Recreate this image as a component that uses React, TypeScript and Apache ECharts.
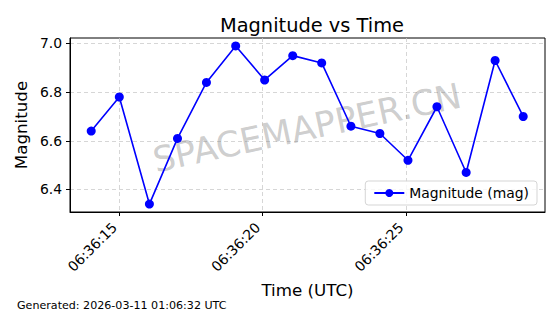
import React, { useEffect, useRef } from "react";
import * as echarts from "echarts";

const times = [
  "06:36:14.02", "06:36:15.00", "06:36:16.05", "06:36:17.03",
  "06:36:18.04", "06:36:19.06", "06:36:20.07", "06:36:21.05",
  "06:36:22.06", "06:36:23.08", "06:36:24.09", "06:36:25.07",
  "06:36:26.08", "06:36:27.10", "06:36:28.11", "06:36:29.09",
];
const magnitudes = [
  6.64, 6.78, 6.34, 6.61, 6.84, 6.99, 6.85, 6.95,
  6.92, 6.66, 6.63, 6.52, 6.74, 6.47, 6.93, 6.70,
];
const xTicks = ["06:36:15", "06:36:20", "06:36:25"];
const yTicks = [6.4, 6.6, 6.8, 7.0];

const toSec = (s: string) => {
  const [h, m, sec] = s.split(":");
  return Number(h) * 3600 + Number(m) * 60 + Number(sec);
};
const fmt = (v: number) => {
  const t = Math.round(v);
  const h = Math.floor(t / 3600);
  const m = Math.floor((t % 3600) / 60);
  const s = t % 60;
  const p = (n: number) => String(n).padStart(2, "0");
  return `${p(h)}:${p(m)}:${p(s)}`;
};

const FONT = "DejaVu Sans";

export default function App() {
  const ref = useRef<HTMLDivElement>(null);
  useEffect(() => {
    if (!ref.current) return;
    const chart = echarts.init(ref.current, undefined, { renderer: "svg" });
    const data = times.map((t, i) => [toSec(t), magnitudes[i]]);
    const xMin = toSec("06:36:13.28");
    const xMax = toSec("06:36:29.85");
    const grid = { color: "#cccccc", type: [4, 3] as any, width: 0.8 };
    chart.setOption({
      animation: false,
      backgroundColor: "#ffffff",
      textStyle: { fontFamily: FONT },
      title: {
        text: "Magnitude vs Time",
        left: 307,
        top: 11,
        textAlign: "center",
        textStyle: { fontFamily: FONT, fontSize: 19.4, fontWeight: "normal", color: "#000" },
      },
      grid: {
        left: 70, right: 15, top: 38, bottom: 102,
        show: true, borderColor: "#000", borderWidth: 1, backgroundColor: "transparent",
      },
      legend: {
        right: 23, bottom: 109,
        orient: "vertical",
        itemWidth: 30, itemHeight: 10, itemGap: 6,
        padding: [5, 8, 5, 8],
        backgroundColor: "rgba(255,255,255,0.8)",
        borderColor: "#d5d5d5", borderWidth: 1, borderRadius: 3,
        textStyle: { fontFamily: FONT, fontSize: 13.9, color: "#000" },
        data: ["Magnitude (mag)"],
      },
      xAxis: {
        type: "value",
        min: xMin, max: xMax,
        name: "Time (UTC)",
        nameLocation: "middle",
        nameGap: 69,
        nameTextStyle: { fontFamily: FONT, fontSize: 16.7, color: "#000" },
        axisLine: { show: true, lineStyle: { color: "#000", width: 1 } },
        axisTick: { show: true, length: 4, lineStyle: { color: "#000" }, customValues: xTicks.map(toSec) },
        axisLabel: {
          rotate: 45, fontFamily: FONT, fontSize: 13.9, color: "#000", margin: 8,
          padding: [0, 7, 0, 0],
          customValues: xTicks.map(toSec),
          formatter: (v: number) => fmt(v),
        },
        splitLine: { show: true, lineStyle: grid },
      },
      yAxis: {
        type: "value",
        min: 6.3075, max: 7.0225,
        name: "Magnitude",
        nameLocation: "middle",
        nameGap: 37,
        nameTextStyle: { fontFamily: FONT, fontSize: 16.7, color: "#000" },
        axisLine: { show: true, lineStyle: { color: "#000", width: 1 } },
        axisTick: { show: true, length: 4, lineStyle: { color: "#000" }, customValues: yTicks },
        axisLabel: {
          fontFamily: FONT, fontSize: 13.9, color: "#000", margin: 8,
          customValues: yTicks,
          formatter: (v: number) => v.toFixed(1),
        },
        splitLine: { show: true, lineStyle: grid },
      },
      graphic: [
        {
          type: "text",
          x: 307, y: 128,
          rotation: (12 * Math.PI) / 180,
          style: {
            text: "SPACEMAPPER.CN",
            fontFamily: FONT, fontSize: 35,
            fill: "rgba(128,128,128,0.4)",
            align: "center", verticalAlign: "middle",
          },
          z: 1,
        },
        {
          type: "text",
          left: 17, top: 300,
          style: {
            text: "Generated: 2026-03-11 01:06:32 UTC",
            fontFamily: FONT, fontSize: 11.1, fill: "#000",
          },
        },
      ],
      series: [
        {
          name: "Magnitude (mag)",
          type: "line",
          data,
          symbol: "circle",
          symbolSize: 9,
          showAllSymbol: true,
          lineStyle: { color: "#0000ff", width: 1.6 },
          itemStyle: { color: "#0000ff" },
          z: 3,
        },
      ],
    });
    return () => chart.dispose();
  }, []);
  return (
    <div
      ref={ref}
      style={{ position: "fixed", left: 0, top: 0, width: 560, height: 314 }}
    />
  );
}
